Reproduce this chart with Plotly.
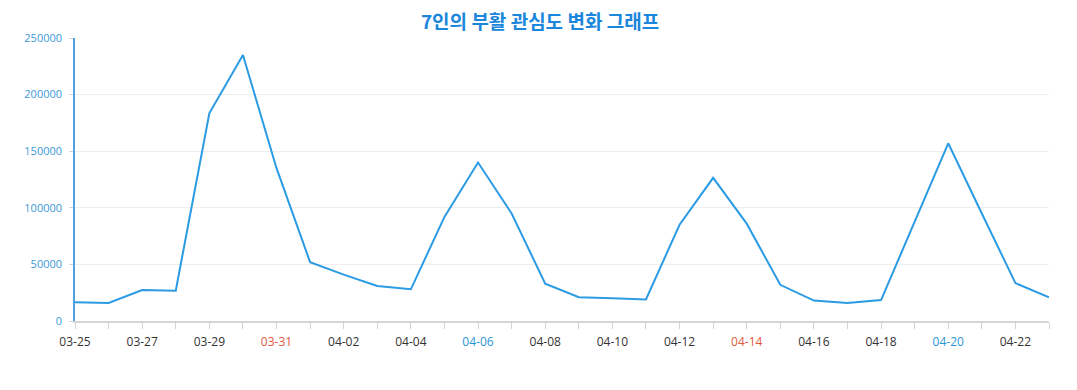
import plotly.graph_objects as go

dates = ["03-25","03-26","03-27","03-28","03-29","03-30","03-31","04-01","04-02","04-03",
         "04-04","04-05","04-06","04-07","04-08","04-09","04-10","04-11","04-12","04-13",
         "04-14","04-15","04-16","04-17","04-18","04-19","04-20","04-21","04-22","04-23"]
values = [16500, 16000, 27400, 26800, 183500, 235000, 135000, 52000, 41000, 31000,
          28000, 92000, 140000, 95000, 33000, 21000, 20000, 19000, 85000, 126500,
          86000, 32000, 18000, 16000, 18500, 88000, 157000, 95000, 33500, 21000]
saturdays = ["04-06", "04-20"]
sundays = ["03-31", "04-14"]

ticktext = []
for i, d in enumerate(dates):
    if i % 2 == 1:
        ticktext.append("")
    elif d in sundays:
        ticktext.append(f"<span style='color:#e2583e'>{d}</span>")
    elif d in saturdays:
        ticktext.append(f"<span style='color:#2b96d6'>{d}</span>")
    else:
        ticktext.append(d)

fig = go.Figure()
fig.add_trace(go.Scatter(x=dates, y=values, mode="lines",
                         line=dict(color="#2b9be3", width=2), hoverinfo="x+y"))

fig.update_layout(
    width=1077, height=390,
    margin=dict(l=67, r=36, t=30, b=77),
    paper_bgcolor="white", plot_bgcolor="white",
    showlegend=False,
    font=dict(family="Open Sans, Noto Sans CJK KR, sans-serif"),
    title=dict(text="<b>7인의 부활 관심도 변화 그래프</b>", x=0.494, xanchor="center",
               y=1 - 14 / 390, yanchor="middle",
               font=dict(size=19, color="#1a86dc", family="Noto Sans CJK KR, sans-serif")),
)
fig.update_xaxes(
    type="category", range=[0, len(dates) - 1],
    tickmode="array", tickvals=dates, ticktext=ticktext,
    tickfont=dict(size=12, color="#333333"),
    ticks="outside", ticklen=6, tickcolor="#d5d5d5",
    ticklabelstandoff=3,
    showline=True, linecolor="#d5d5d5", linewidth=1.5,
    showgrid=False, zeroline=False,
)
fig.update_yaxes(
    range=[0, 250000], tickvals=[0, 50000, 100000, 150000, 200000, 250000],
    tickformat="d",
    tickfont=dict(size=11, color="#3b9ad8"),
    ticks="outside", ticklen=4, tickcolor="#d5d5d5",
    ticklabelstandoff=5,
    showline=True, linecolor="#4aa3e0", linewidth=1.5,
    showgrid=True, gridcolor="#eeeeee", zeroline=False,
)

fig.write_html("out.html")
